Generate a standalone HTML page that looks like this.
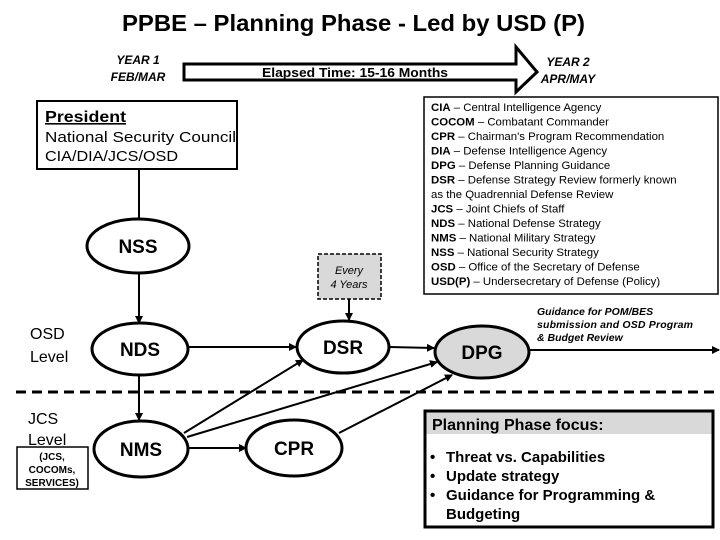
<!DOCTYPE html>
<html><head><meta charset="utf-8"><style>
html,body{margin:0;padding:0;background:#fff;}
svg{display:block;font-family:"Liberation Sans",Arial,sans-serif;}
</style></head><body>
<svg width="720" height="540" viewBox="0 0 720 540" xmlns="http://www.w3.org/2000/svg">
<defs>
<marker id="a" markerWidth="8" markerHeight="8" refX="7" refY="4" orient="auto" markerUnits="userSpaceOnUse">
<path d="M0,0 L8,4 L0,8 z" fill="#000"/></marker>
</defs>
<text x="122" y="31" font-size="23" font-weight="bold" textLength="463" lengthAdjust="spacingAndGlyphs">PPBE – Planning Phase - Led by USD (P)</text>
<text x="138" y="64" font-size="12" font-weight="bold" font-style="italic" text-anchor="middle">YEAR 1</text>
<text x="138" y="81" font-size="12" font-weight="bold" font-style="italic" text-anchor="middle">FEB/MAR</text>
<text x="568" y="66" font-size="12" font-weight="bold" font-style="italic" text-anchor="middle">YEAR 2</text>
<text x="568" y="83" font-size="12" font-weight="bold" font-style="italic" text-anchor="middle">APR/MAY</text>
<path d="M184,64 L516,64 L516,47 L537,72 L516,92 L516,80 L184,80 z" fill="#fff" stroke="#000" stroke-width="3"/>
<text x="262" y="77" font-size="13" font-weight="bold" textLength="186" lengthAdjust="spacingAndGlyphs">Elapsed Time: 15-16 Months</text>

<rect x="37" y="101" width="200" height="68" fill="#fff" stroke="#000" stroke-width="2"/>
<text x="45" y="122" font-size="16" font-weight="bold" text-decoration="underline" textLength="81" lengthAdjust="spacingAndGlyphs">President</text>
<text x="45" y="142" font-size="15" textLength="191" lengthAdjust="spacingAndGlyphs">National Security Council</text>
<text x="45" y="161" font-size="15" textLength="133" lengthAdjust="spacingAndGlyphs">CIA/DIA/JCS/OSD</text>
<line x1="139" y1="169" x2="139" y2="220" stroke="#000" stroke-width="2"/>

<rect x="424" y="97" width="294" height="197" fill="#fff" stroke="#000" stroke-width="1.5"/>
<g font-size="11.4">
<text x="431" y="111"><tspan font-weight="bold">CIA</tspan> – Central Intelligence Agency</text>
<text x="431" y="125.5"><tspan font-weight="bold">COCOM</tspan> – Combatant Commander</text>
<text x="431" y="140"><tspan font-weight="bold">CPR</tspan> – Chairman's Program Recommendation</text>
<text x="431" y="154.5"><tspan font-weight="bold">DIA</tspan> – Defense Intelligence Agency</text>
<text x="431" y="169"><tspan font-weight="bold">DPG</tspan> – Defense Planning Guidance</text>
<text x="431" y="183.5"><tspan font-weight="bold">DSR</tspan> – Defense Strategy Review formerly known</text>
<text x="431" y="198">as the Quadrennial Defense Review</text>
<text x="431" y="212.5"><tspan font-weight="bold">JCS</tspan> – Joint Chiefs of Staff</text>
<text x="431" y="227"><tspan font-weight="bold">NDS</tspan> – National Defense Strategy</text>
<text x="431" y="241.5"><tspan font-weight="bold">NMS</tspan> – National Military Strategy</text>
<text x="431" y="256"><tspan font-weight="bold">NSS</tspan> – National Security Strategy</text>
<text x="431" y="270.5"><tspan font-weight="bold">OSD</tspan> – Office of the Secretary of Defense</text>
<text x="431" y="285"><tspan font-weight="bold">USD(P)</tspan> – Undersecretary of Defense (Policy)</text>
</g>

<line x1="16" y1="392" x2="720" y2="392" stroke="#000" stroke-width="3" stroke-dasharray="10,6"/>

<g stroke="#000" stroke-width="2" fill="none" marker-end="url(#a)">
<line x1="139" y1="272" x2="139" y2="323"/>
<line x1="139" y1="376" x2="139" y2="420"/>
<line x1="187" y1="347" x2="296" y2="347"/>
<line x1="389" y1="347" x2="434" y2="348"/>
<line x1="349" y1="299" x2="349" y2="320"/>
<line x1="184" y1="433" x2="303" y2="360"/>
<line x1="187" y1="437" x2="437" y2="362"/>
<line x1="188" y1="448" x2="246" y2="448"/>
<line x1="339" y1="433" x2="452" y2="375"/>
<line x1="529" y1="350" x2="719" y2="350"/>
</g>

<g stroke="#000" stroke-width="3" fill="#fff">
<ellipse cx="138" cy="246" rx="51" ry="27"/>
<ellipse cx="140" cy="349" rx="48" ry="26"/>
<ellipse cx="343" cy="347" rx="46" ry="26"/>
<ellipse cx="482" cy="352" rx="47" ry="26" fill="#d9d9d9"/>
<ellipse cx="141" cy="449" rx="47" ry="28"/>
<ellipse cx="294" cy="448" rx="48" ry="28"/>
</g>
<g font-size="19" font-weight="bold" text-anchor="middle">
<text x="138" y="253">NSS</text>
<text x="140" y="356">NDS</text>
<text x="343" y="354">DSR</text>
<text x="482" y="359">DPG</text>
<text x="141" y="456">NMS</text>
<text x="294" y="455">CPR</text>
</g>

<rect x="318" y="254" width="63" height="45" fill="#d9d9d9" stroke="#000" stroke-width="1.5" stroke-dasharray="4,2"/>
<text x="349" y="274" font-size="11" font-style="italic" text-anchor="middle">Every</text>
<text x="349" y="288" font-size="11" font-style="italic" text-anchor="middle">4 Years</text>

<g font-size="10.5" font-weight="bold" font-style="italic">
<text x="537" y="315">Guidance for POM/BES</text>
<text x="537" y="328" textLength="156" lengthAdjust="spacing">submission and OSD Program</text>
<text x="537" y="341">&amp; Budget Review</text>
</g>

<text x="30" y="339" font-size="16">OSD</text>
<text x="30" y="362" font-size="16">Level</text>
<text x="28" y="424" font-size="16">JCS</text>
<text x="28" y="445" font-size="16">Level</text>
<rect x="17" y="447" width="71" height="42" fill="#fff" stroke="#000" stroke-width="1.5"/>
<g font-size="10" font-weight="bold" text-anchor="middle">
<text x="52" y="460">(JCS,</text>
<text x="52" y="473">COCOMs,</text>
<text x="52" y="486">SERVICES)</text>
</g>

<rect x="425" y="411" width="288" height="116" fill="#fff" stroke="#000" stroke-width="3"/>
<rect x="426.5" y="412.5" width="285" height="21.5" fill="#d9d9d9"/>
<text x="432" y="430" font-size="16" font-weight="bold">Planning Phase focus:</text>
<g font-size="15" font-weight="bold">
<text x="430" y="462">•</text><text x="446" y="462">Threat vs. Capabilities</text>
<text x="430" y="481">•</text><text x="446" y="481">Update strategy</text>
<text x="430" y="500">•</text><text x="446" y="500">Guidance for Programming &amp;</text>
<text x="446" y="519">Budgeting</text>
</g>
</svg>
</body></html>
